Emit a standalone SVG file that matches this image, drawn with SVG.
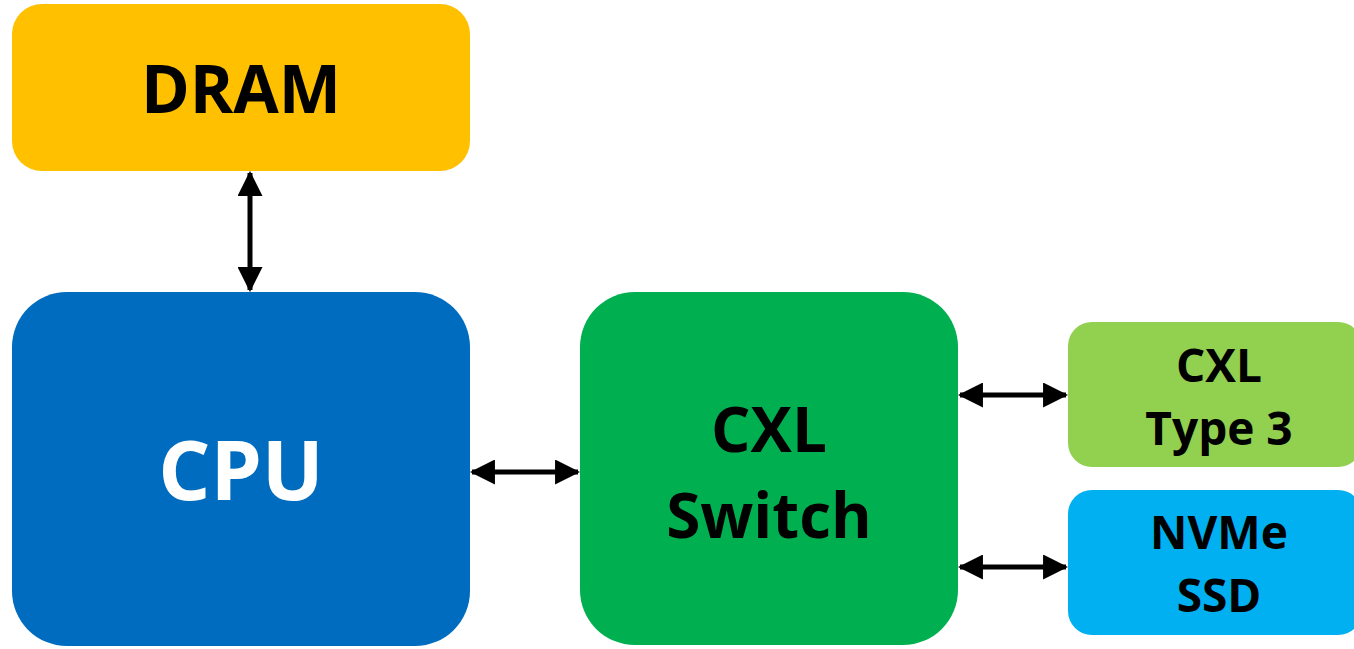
<svg xmlns="http://www.w3.org/2000/svg" width="1354" height="649" viewBox="0 0 1354 649">
  <defs>
    <style>
      .lbl { font-family: "Open Sans", "Liberation Sans", sans-serif; font-weight: 700; text-anchor: middle; fill: #000; }
      .wire { stroke: #000; stroke-width: 5; fill: none; }
    </style>
    <marker id="head" viewBox="0 0 24 24" refX="22" refY="12" markerWidth="25" markerHeight="25" markerUnits="userSpaceOnUse" orient="auto-start-reverse">
      <path d="M0,0 L24,12 L0,24 Z" fill="#000"/>
    </marker>
  </defs>
  <rect width="1354" height="649" fill="#fff"/>

  <g id="dram">
    <rect x="12" y="4" width="458" height="167" rx="30" fill="#FFC000"/>
    <text class="lbl" x="241" y="113" font-size="66">DRAM</text>
  </g>

  <g id="cpu">
    <rect x="12" y="292" width="458" height="354" rx="55" fill="#006CBF"/>
    <text class="lbl" x="241" y="500" font-size="82" style="fill:#fff">CPU</text>
  </g>

  <g id="cxl-switch">
    <rect x="580" y="292" width="378" height="353" rx="55" fill="#00B050"/>
    <text class="lbl" x="769" y="452" font-size="62">CXL</text>
    <text class="lbl" x="769" y="538" font-size="62">Switch</text>
  </g>

  <g id="cxl-type3">
    <rect x="1068" y="322" width="294" height="145" rx="24" fill="#92D050"/>
    <text class="lbl" x="1219" y="382" font-size="46">CXL</text>
    <text class="lbl" x="1219" y="445" font-size="46">Type 3</text>
  </g>

  <g id="nvme-ssd">
    <rect x="1068" y="490" width="294" height="145" rx="24" fill="#00B0F0"/>
    <text class="lbl" x="1219" y="549" font-size="46">NVMe</text>
    <text class="lbl" x="1219" y="612" font-size="46">SSD</text>
  </g>

  <g id="connectors">
    <line class="wire" x1="250" y1="173" x2="250" y2="290" marker-start="url(#head)" marker-end="url(#head)"/>
    <line class="wire" x1="472" y1="472" x2="578" y2="472" marker-start="url(#head)" marker-end="url(#head)"/>
    <line class="wire" x1="960" y1="395" x2="1066" y2="395" marker-start="url(#head)" marker-end="url(#head)"/>
    <line class="wire" x1="960" y1="567" x2="1066" y2="567" marker-start="url(#head)" marker-end="url(#head)"/>
  </g>
</svg>
